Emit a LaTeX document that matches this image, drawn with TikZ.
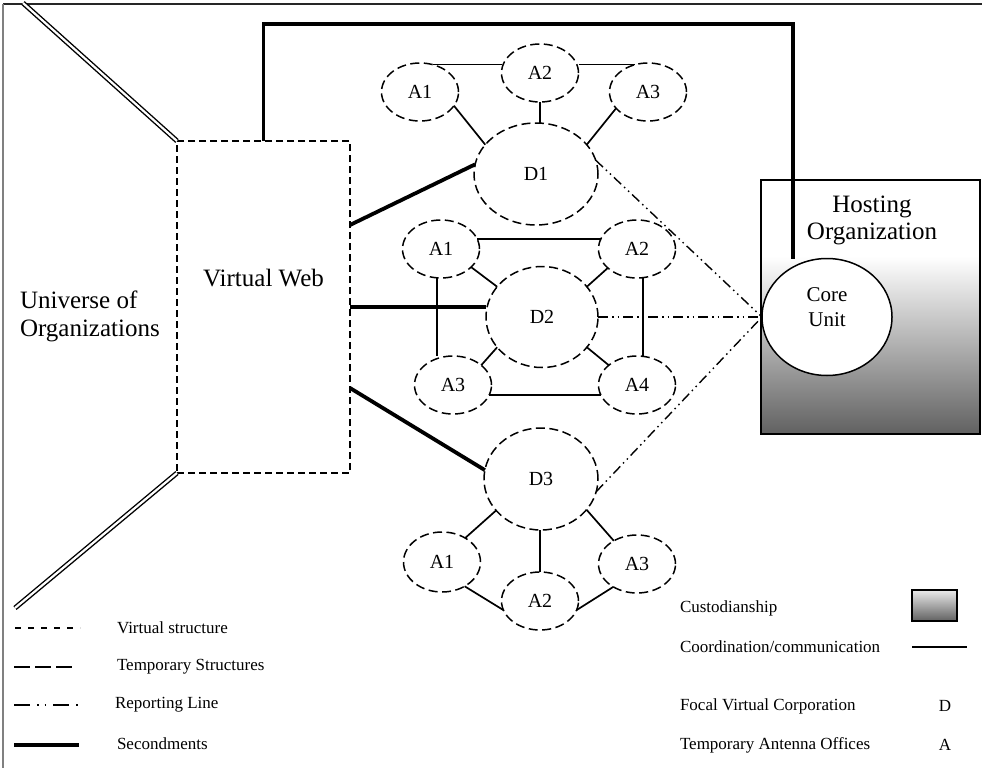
\documentclass[tikz,border=0pt]{standalone}
\usepackage{fontspec}
\setmainfont{Liberation Serif}
\usetikzlibrary{shapes.geometric,calc}

% custodianship fade: dark grey at the bottom, white over the upper third
\pgfdeclareverticalshading{hostfade}{100bp}{color(0bp)=(black!62); color(25bp)=(black!62); color(60bp)=(white); color(100bp)=(white)}

\begin{document}
\begin{tikzpicture}[x=1pt,y=-1pt,
  every node/.style={inner sep=0pt, outer sep=0pt},
  tempshape/.style={ellipse, draw, line width=1.5pt, dash pattern=on 9pt off 4.5pt,
    font=\fontsize{20}{24}\selectfont},
  anode/.style={tempshape, minimum width=77pt, minimum height=58pt},
  coordline/.style={line width=1.7pt},
  secondment/.style={line width=3.8pt},
  reportline/.style={line width=1.4pt, dash pattern=on 10pt off 4pt on 1.5pt off 4pt on 1.5pt off 4pt},
  virtline/.style={line width=1.6pt, dash pattern=on 7pt off 4pt},
  unilink/.style={double, double distance=2.2pt, line width=1.4pt},
  bigtext/.style={font=\fontsize{25}{28}\selectfont, align=center},
  legendtext/.style={font=\fontsize{17}{20}\selectfont, anchor=west},
]
\useasboundingbox (0,0) rectangle (982,768);

% frame
\draw[line width=1.2pt, black!85] (3,4) -- (982,4);
\draw[line width=1.4pt, black!50] (3,4) -- (3,768);

% hosting organization with its core unit
\node[draw, line width=1.6pt, minimum width=219pt, minimum height=254pt, shading=hostfade] (host) at (870.5,307) {};
\node[bigtext, font=\fontsize{25}{27}\selectfont] (hostlbl) at (872,220) {Hosting\\Organization};

% virtual web
\node[draw, virtline, minimum width=173pt, minimum height=332pt] (vw) at (263.5,307) {};
\node[bigtext] (vwlbl) at (263.5,278) {Virtual Web};
\node[bigtext, align=left, anchor=west] (uni) at (20,316) {Universe of\\Organizations};

\coordinate (unitop) at (23,3);
\coordinate (unibot) at (15,608);
\draw[unilink] (unitop) -- (vw.north west);
\draw[unilink] (vw.south west) -- (unibot);

% focal virtual corporations and antenna offices
\node[tempshape, minimum width=124pt, minimum height=102pt] (d1) at (536,174) {D1};
\node[anode] (d1a1) at (420,92) {A1};
\node[anode] (d1a2) at (540,73) {A2};
\node[anode] (d1a3) at (648,92) {A3};

\node[tempshape, minimum width=112pt, minimum height=101pt] (d2) at (542,317) {D2};
\node[anode] (d2a1) at (441,249) {A1};
\node[anode] (d2a2) at (637,249) {A2};
\node[anode] (d2a3) at (453,385) {A3};
\node[anode] (d2a4) at (637,385) {A4};

\node[tempshape, minimum width=114pt, minimum height=102pt] (d3) at (541,479) {D3};
\node[anode, minimum height=60pt] (d3a1) at (442,562) {A1};
\node[anode] (d3a2) at (540,601) {A2};
\node[anode] (d3a3) at (637,564) {A3};

% coordination / communication links
\draw[coordline] (d1a1.65) -- (d1a1.65 -| d1a2.west);
\draw[coordline] (d1a3.115 -| d1a2.east) -- (d1a3.115);
\draw[coordline] (d1a1.-22) -- (d1.150);
\draw[coordline] (d1a2.south) -- (d1a2.south |- d1.north);
\draw[coordline] (d1a3.207) -- (d1.30);

\draw[coordline] (d2a1.15) -- (d2a2.165);
\draw[coordline] (d2a3.-15) -- (d2a4.195);
\draw[coordline] ($(d2a1.south)+(-4,0)$) -- ($(d2a1.south |- d2a3.north)+(-4,0)$);
\draw[coordline] ($(d2a2.south)+(6,0)$) -- ($(d2a4.north)+(6,0)$);
\draw[coordline] (d2a1.-31) -- (d2.146);
\draw[coordline] (d2a2.213) -- (d2.34);
\draw[coordline] (d2a3.35) -- (d2.214);
\draw[coordline] (d2a4.145) -- (d2.-34);

\draw[coordline] (d3a1.46) -- (d3.215);
\draw[coordline] (d3a2.north) -- (d3a2.north |- d3.south);
\draw[coordline] (d3a3.135) -- (d3.-34);
\draw[coordline] (d3a1.-47) -- (d3a2.194);
\draw[coordline] (d3a2.-14) -- (d3a3.224);

% secondments
\coordinate (topturn) at (793,24);
\draw[secondment] ($(vw.north east)+(0,84)$) -- (d1.171);
\draw[secondment] (vw.east) -- (vw.east -| d2.west);
\draw[secondment] ($(vw.south east)+(0,-85)$) -- (d3.171);

% core unit
\node[ellipse, draw, fill=white, line width=1.5pt, minimum width=130pt, minimum height=117pt] (core) at (827,317) {};
\node[font=\fontsize{21}{25}\selectfont, align=center] (corelbl) at (827,307) {Core\\Unit};
\draw[secondment] (vw.north) |- (topturn) -- (topturn |- core.north);

% reporting lines
\draw[reportline] (d1.13) -- (core.west);
\draw[reportline] (d2.east) -- (core.west);
\draw[reportline] (d3.-13) -- (core.west);

% legend, left column
\node[legendtext] (lg1) at (117,628) {Virtual structure};
\node[legendtext] (lg2) at (117,667) {Temporary Structures};
\node[legendtext] (lg3) at (115,705) {Reporting Line};
\node[legendtext] (lg4) at (117,744) {Secondments};
\draw[line width=1.5pt, dash pattern=on 6pt off 7pt] (15,628) -- (80,628);
\draw[line width=1.5pt, dash pattern=on 16pt off 5pt] (14,667) -- (73,667);
\draw[line width=1.5pt, dash pattern=on 16pt off 7pt on 1.5pt off 6pt on 1.5pt off 7pt] (14,705) -- (78,705);
\draw[secondment] (14,745) -- (79,745);

% legend, right column
\node[legendtext] (lg5) at (680,608) {Custodianship};
\node[legendtext] (lg6) at (680,647) {Coordination/communication};
\node[legendtext] (lg7) at (680,706) {Focal Virtual Corporation};
\node[legendtext] (lg8) at (680,745) {Temporary Antenna Offices};
\node[legendtext, anchor=center] (lgd) at (945,706) {D};
\node[legendtext, anchor=center] (lga) at (945,745) {A};
\node[draw, line width=1.6pt, minimum width=45pt, minimum height=31pt,
  top color=white!92!black, bottom color=black!62] (custbox) at (934.5,605.5) {};
\draw[coordline] (912,647) -- (967,647);
\end{tikzpicture}
\end{document}
